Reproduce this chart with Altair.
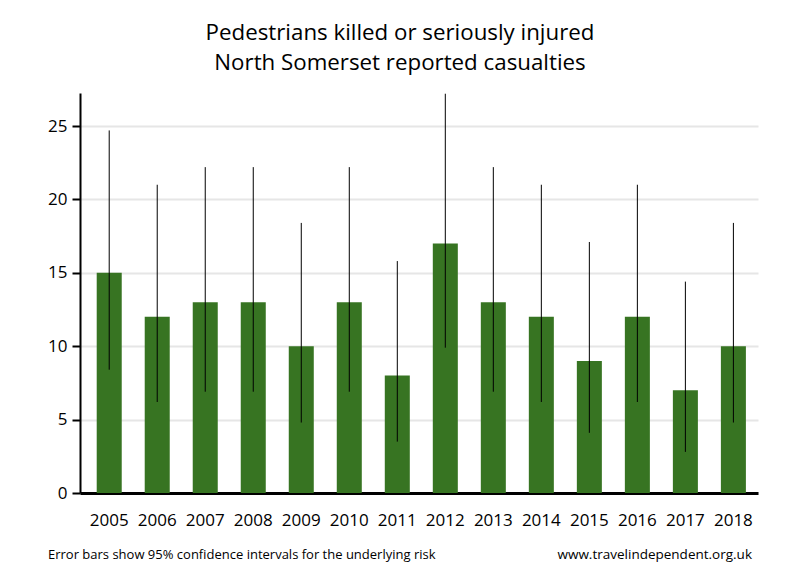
import altair as alt
import pandas as pd

years = ["2005", "2006", "2007", "2008", "2009", "2010", "2011",
         "2012", "2013", "2014", "2015", "2016", "2017", "2018"]
casualties = [15, 12, 13, 13, 10, 13, 8, 17, 13, 12, 9, 12, 7, 10]
ci_lower = [8.4, 6.2, 6.9, 6.9, 4.8, 6.9, 3.5, 9.9, 6.9, 6.2, 4.1, 6.2, 2.8, 4.8]
ci_upper = [24.7, 21.0, 22.2, 22.2, 18.4, 22.2, 15.8, 27.2, 22.2, 21.0, 17.1, 21.0, 14.4, 18.4]
y_ticks = [0, 5, 10, 15, 20, 25]
title_lines = ["Pedestrians killed or seriously injured", "North Somerset reported casualties"]
footer_left = "Error bars show 95% confidence intervals for the underlying risk"
footer_right = "www.travelindependent.org.uk"

df = pd.DataFrame({"year": years, "value": casualties, "lo": ci_lower, "hi": ci_upper})

FONT = "Open Sans"

x = alt.X("year:N", sort=years, title=None,
          scale=alt.Scale(paddingInner=0.479, paddingOuter=0.3, align=0.58),
          axis=alt.Axis(labelAngle=0, labelFontSize=17, labelFont=FONT, labelColor="#000000",
                        ticks=False, labelPadding=19, domainColor="#000000", domainWidth=3,
                        grid=False))
y = alt.Y("value:Q", title=None,
          scale=alt.Scale(domain=[0, 27.25], nice=False),
          axis=alt.Axis(values=y_ticks, labelFontSize=17, labelFont=FONT, labelColor="#000000",
                        tickColor="#000000", tickSize=8, tickWidth=2, labelPadding=5,
                        domainColor="#000000", domainWidth=2,
                        grid=True, gridColor="#e6e6e6", gridWidth=2))

bars = alt.Chart(df).mark_bar(color="#377422").encode(x=x, y=y)

errs = alt.Chart(df).mark_rule(color="#000000", strokeWidth=1).encode(
    x=alt.X("year:N", sort=years), y="lo:Q", y2="hi:Q")

foot_df = pd.DataFrame({"l": [footer_left], "r": [footer_right]})
foot_l = alt.Chart(foot_df).mark_text(align="left", baseline="middle", fontSize=13,
                                      font=FONT, color="#000000").encode(
    text="l:N", x=alt.value(-32), y=alt.value(462))
foot_r = alt.Chart(foot_df).mark_text(align="right", baseline="middle", fontSize=13.5,
                                      font=FONT, color="#000000").encode(
    text="r:N", x=alt.value(672), y=alt.value(462))

chart = alt.layer(bars, errs, foot_l, foot_r).properties(
    width=678, height=400,
    title=alt.TitleParams(title_lines, fontSize=22.3, font=FONT, fontWeight="normal",
                          color="#000000", anchor="middle", dx=-19, offset=19, lineHeight=30),
    autosize=alt.AutoSizeParams(type="none"),
    padding={"left": 80, "top": 93, "right": 42, "bottom": 87},
    view=alt.ViewBackground(stroke="transparent", strokeWidth=0),
).configure_view(stroke="transparent", strokeWidth=0).configure_axisX(grid=False).configure(
    background="#ffffff")

chart.save("out.html", embed_options={"renderer": "svg", "actions": False})
